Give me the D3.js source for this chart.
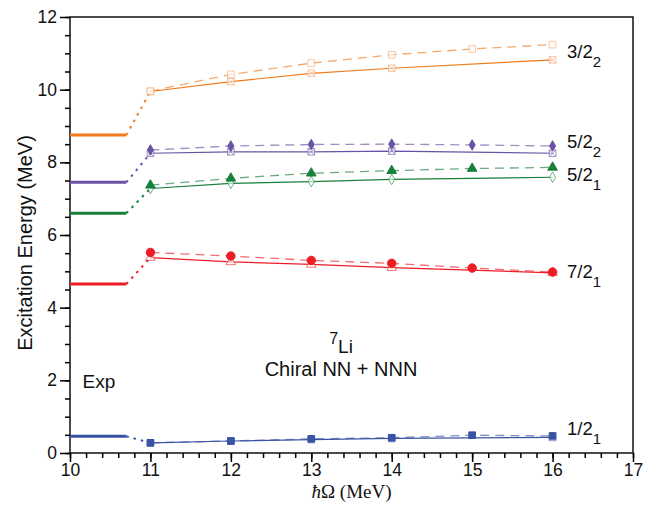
<!DOCTYPE html>
<html>
<head>
<meta charset="utf-8">
<script src="https://cdn.jsdelivr.net/npm/d3@7"></script>
<style>
  body { margin: 0; background: #fff; }
  text { font-family: "Liberation Sans", Arial, Helvetica, sans-serif; }
</style>
</head>
<body>
<div id="chart"></div>
<script>
// hbar-Omega values of the calculations
const hwDashed = [11, 12, 13, 14, 15, 16];
const hwSolid = [11, 12, 13, 14, 16];

// states (top to bottom)
const states = ["3/2_2", "5/2_2", "5/2_1", "7/2_1", "1/2_1"];
const expEnergy = [8.75, 7.45, 6.6, 4.65, 0.46];

const dashed32b = [9.96, 10.42, 10.73, 10.96, 11.12, 11.24];
const solid32b = [9.95, 10.22, 10.45, 10.59, 10.82];
const dashed52b = [8.34, 8.45, 8.49, 8.5, 8.48, 8.45];
const solid52b = [8.25, 8.29, 8.29, 8.31, 8.25];
const dashed52a = [7.37, 7.56, 7.7, 7.77, 7.83, 7.86];
const solid52a = [7.28, 7.42, 7.47, 7.53, 7.59];
const dashed72a = [5.52, 5.42, 5.3, 5.22, 5.09, 4.98];
const solid72a = [5.38, 5.26, 5.19, 5.1, 4.96];
const dashed12a = [0.28, 0.33, 0.39, 0.42, 0.49, 0.47];
const solid12a = [0.28, 0.33, 0.37, 0.4, 0.43];

// label anchors (data coords)
const labelY = [10.86, 8.4, 7.49, 4.82, 0.49];

const xTicks = [10, 11, 12, 13, 14, 15, 16, 17];
const yTicks = [0, 2, 4, 6, 8, 10, 12];

let width = 652,
    height = 506,
    marginTop = 17,
    marginRight = 19,
    marginBottom = 53,
    marginLeft = 70,
    expEnd = 10.7, // where the experimental level bars stop
    labelX = 16.18

const colors = ["#f07b1c", "#6a52a4", "#17803b", "#ee1c25", "#3953a4"];
const markerFill = ["#f5a46c", "#6a52a4", "#17803b", "#ee1c25", "#3953a4"];
// marker kinds: [dashed, solid]
const markers = [
    ["square-open", "square-x"],
    ["diamond", "square-x"],
    ["triangle", "diamond-open"],
    ["circle", "triangle-open"],
    ["square", "square-open"]
];

const series = states.map((s, i) => ({
    name: s,
    exp: expEnergy[i],
    dashed: [dashed32b, dashed52b, dashed52a, dashed72a, dashed12a][i],
    solid: [solid32b, solid52b, solid52a, solid72a, solid12a][i],
    color: colors[i],
    mfill: markerFill[i],
    markers: markers[i],
    ly: labelY[i]
}));

const x = d3.scaleLinear([10, 17], [marginLeft, width - marginRight]);
const y = d3.scaleLinear([0, 12], [height - marginBottom, marginTop]);

const svg = d3.select("#chart")
    .append("svg")
    .attr("width", width)
    .attr("height", height)
    .attr("viewBox", [0, 0, width, height]);

// frame
svg.append("rect")
    .attr("x", x(10)).attr("y", y(12))
    .attr("width", x(17) - x(10)).attr("height", y(0) - y(12))
    .attr("fill", "none").attr("stroke", "#111").attr("stroke-width", 1.5);

// minor ticks
svg.append("g")
    .attr("transform", `translate(0,${y(0)})`)
    .call(d3.axisBottom(x).tickValues(d3.range(10, 17.01, 0.2)).tickSize(5).tickFormat(""))
    .call(g => g.select(".domain").remove())
    .call(g => g.selectAll(".tick line").attr("stroke-width", 1.5));
svg.append("g")
    .attr("transform", `translate(${x(10)},0)`)
    .call(d3.axisLeft(y).tickValues(d3.range(0, 12.01, 0.5)).tickSize(5).tickFormat(""))
    .call(g => g.select(".domain").remove())
    .call(g => g.selectAll(".tick line").attr("stroke-width", 1.5));

// major ticks
svg.append("g")
    .attr("transform", `translate(0,${y(0)})`)
    .call(d3.axisBottom(x).tickValues(xTicks).tickSize(9).tickPadding(2).tickFormat(d3.format("d")))
    .call(g => g.select(".domain").remove())
    .call(g => g.selectAll(".tick line").attr("stroke-width", 1.5))
    .call(g => g.selectAll(".tick text").attr("font-size", 17.5).attr("fill", "#111")
        .attr("font-family", "Liberation Sans, Arial, sans-serif"));
svg.append("g")
    .attr("transform", `translate(${x(10)},0)`)
    .call(d3.axisLeft(y).tickValues(yTicks).tickSize(10).tickPadding(3).tickFormat(d3.format("d")))
    .call(g => g.select(".domain").remove())
    .call(g => g.selectAll(".tick line").attr("stroke-width", 1.5))
    .call(g => g.selectAll(".tick text").attr("font-size", 17.5).attr("fill", "#111")
        .attr("font-family", "Liberation Sans, Arial, sans-serif"));

// axis titles
svg.append("text")
    .attr("transform", `translate(32,${(y(0) + y(12)) / 2 + 8}) rotate(-90)`)
    .attr("text-anchor", "middle")
    .attr("font-size", 20)
    .attr("fill", "#111")
    .text("Excitation Energy (MeV)");

svg.append("text")
    .attr("x", (x(10) + x(17)) / 2)
    .attr("y", 498)
    .attr("text-anchor", "middle")
    .attr("font-size", 19)
    .attr("fill", "#111")
    .style("font-family", "Liberation Serif, Times New Roman, serif")
    .call(t => t.append("tspan").attr("font-style", "italic").text("ħ"))
    .call(t => t.append("tspan").text("Ω (MeV)"));

const symbolType = {
    "square": d3.symbolSquare, "square-open": d3.symbolSquare, "square-x": d3.symbolSquare,
    "diamond": d3.symbolDiamond, "diamond-open": d3.symbolDiamond,
    "triangle": d3.symbolTriangle, "triangle-open": d3.symbolTriangle,
    "circle": d3.symbolCircle
};

const line = d3.line().x(d => x(d[0])).y(d => y(d[1]));

const drawMarkers = (g, pts, kind, s) => {
    const open = kind.includes("open") || kind === "square-x";
    const size = kind.startsWith("circle") ? 56 : kind.startsWith("diamond") ? 32 : kind.startsWith("triangle") ? 40 : 44;
    g.selectAll(null)
        .data(pts)
        .join("path")
        .attr("transform", d => `translate(${x(d[0])},${y(d[1])})`)
        .attr("d", d3.symbol(symbolType[kind], size))
        .attr("fill", open ? "white" : s.mfill)
        .attr("fill-opacity", open ? 0.6 : 1)
        .attr("stroke", s.mfill)
        .attr("stroke-opacity", open ? 0.6 : 1)
        .attr("stroke-width", 1);
    if (kind === "square-x") {
        const h = Math.sqrt(size) / 2;
        g.selectAll(null)
            .data(pts)
            .join("path")
            .attr("transform", d => `translate(${x(d[0])},${y(d[1])})`)
            .attr("d", `M${-h},${-h}L${h},${h}M${-h},${h}L${h},${-h}`)
            .attr("stroke", s.mfill)
            .attr("stroke-opacity", 0.6)
            .attr("stroke-width", 1);
    }
};

series.forEach(s => {
    const g = svg.append("g");
    const dPts = hwDashed.map((h, i) => [h, s.dashed[i]]);
    const sPts = hwSolid.map((h, i) => [h, s.solid[i]]);

    // experimental level
    g.append("path")
        .attr("d", line([[10, s.exp], [expEnd, s.exp]]))
        .attr("stroke", s.color).attr("stroke-width", 3).attr("fill", "none");
    // dotted link to the calculation
    g.append("path")
        .attr("d", line([[expEnd, s.exp], sPts[0]]))
        .attr("stroke", s.color).attr("stroke-width", 2).attr("fill", "none")
        .attr("stroke-dasharray", "2.5,5");
    // calculations
    g.append("path")
        .attr("d", line(dPts))
        .attr("stroke", s.color).attr("stroke-opacity", 0.65).attr("stroke-width", 1.3)
        .attr("fill", "none").attr("stroke-dasharray", "9,6");
    g.append("path")
        .attr("d", line(sPts))
        .attr("stroke", s.color).attr("stroke-width", 1.2).attr("fill", "none");

    drawMarkers(g, sPts, s.markers[1], s);
    drawMarkers(g, dPts, s.markers[0], s);

    // state label
    const [j, k] = s.name.split("_");
    g.append("text")
        .attr("x", x(labelX))
        .attr("y", y(s.ly))
        .attr("font-size", 18.5)
        .attr("fill", "#111")
        .call(t => t.append("tspan").text(j))
        .call(t => t.append("tspan").attr("font-size", 15).attr("dy", 9).text(k));
});

// annotations
svg.append("text")
    .attr("x", x(13.37))
    .attr("y", y(2.74))
    .attr("text-anchor", "middle")
    .attr("font-size", 19)
    .attr("fill", "#111")
    .call(t => t.append("tspan").attr("font-size", 16).attr("dy", -9).text("7"))
    .call(t => t.append("tspan").attr("dy", 9).text("Li"));

svg.append("text")
    .attr("x", x(13.37))
    .attr("y", y(2.11))
    .attr("text-anchor", "middle")
    .attr("font-size", 20)
    .attr("fill", "#111")
    .text("Chiral NN + NNN");

svg.append("text")
    .attr("x", x(10.155))
    .attr("y", y(1.8))
    .attr("font-size", 19)
    .attr("fill", "#111")
    .text("Exp");
</script>
</body>
</html>
